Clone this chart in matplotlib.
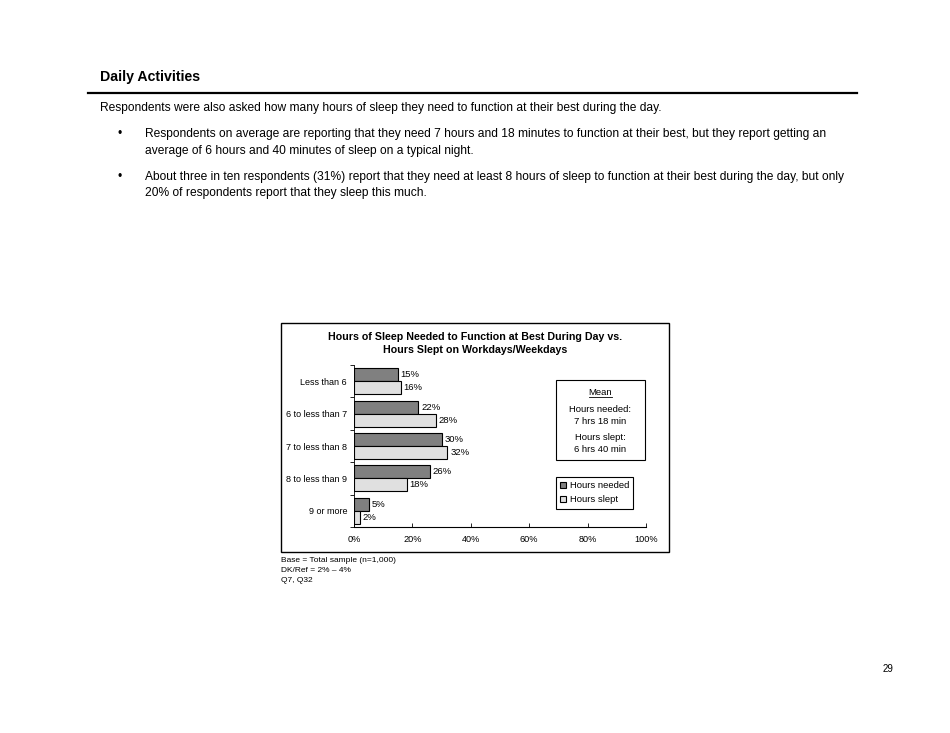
import matplotlib
matplotlib.use("Agg")
import matplotlib.pyplot as plt
from matplotlib.patches import Rectangle
from matplotlib.lines import Line2D
import numpy as np

plt.rcParams['font.family'] = ['Liberation Sans', 'DejaVu Sans']

categories = ["Less than 6", "6 to less than 7", "7 to less than 8", "8 to less than 9", "9 or more"]
hours_needed = [15, 22, 30, 26, 5]
hours_slept = [16, 28, 32, 18, 2]
series_names = ["Hours needed", "Hours slept"]
x_ticks = [0, 20, 40, 60, 80, 100]
x_tick_labels = ["0%", "20%", "40%", "60%", "80%", "100%"]

W, H = 950, 733
fig = plt.figure(figsize=(W / 100, H / 100), dpi=100)
fig.patch.set_facecolor("white")

def fx(px):
    return px / W

def fy(py):
    return 1 - py / H

# Page header
fig.text(fx(100), fy(77), "Daily Activities", fontsize=10.2, fontweight="bold", va="center", ha="left")
fig.add_artist(Line2D([fx(88), fx(857)], [fy(93), fy(93)], transform=fig.transFigure, color="black", lw=1.6))

body = 8.62
fig.text(fx(100), fy(108), "Respondents were also asked how many hours of sleep they need to function at their best during the day.",
         fontsize=body, va="center", ha="left")
fig.text(fx(118), fy(134), "•", fontsize=body, va="center", ha="left")
fig.text(fx(145), fy(134), "Respondents on average are reporting that they need 7 hours and 18 minutes to function at their best, but they report getting an",
         fontsize=body, va="center", ha="left")
fig.text(fx(145), fy(151), "average of 6 hours and 40 minutes of sleep on a typical night.", fontsize=body, va="center", ha="left")
fig.text(fx(118), fy(177), "•", fontsize=body, va="center", ha="left")
fig.text(fx(145), fy(177), "About three in ten respondents (31%) report that they need at least 8 hours of sleep to function at their best during the day, but only",
         fontsize=body, va="center", ha="left")
fig.text(fx(145), fy(193), "20% of respondents report that they sleep this much.", fontsize=body, va="center", ha="left")

# Chart frame
fig.add_artist(Rectangle((fx(281), fy(552)), fx(669) - fx(281), fy(323) - fy(552), transform=fig.transFigure,
                         fill=False, edgecolor="black", lw=1.0))

fig.text(fx(475), fy(337), "Hours of Sleep Needed to Function at Best During Day vs.", fontsize=7.7, fontweight="bold", ha="center", va="center")
fig.text(fx(475), fy(350), "Hours Slept on Workdays/Weekdays", fontsize=7.7, fontweight="bold", ha="center", va="center")

# Axes
ax = fig.add_axes([fx(354), fy(527), fx(646) - fx(354), fy(365) - fy(527)])
y = np.arange(len(categories))
bh = 0.4
dark = "#808080"
light = "#e0e0e0"
b1 = ax.barh(y - bh / 2, hours_needed, height=bh, color=dark, edgecolor="black", lw=0.8, label=series_names[0])
b2 = ax.barh(y + bh / 2, hours_slept, height=bh, color=light, edgecolor="black", lw=0.8, label=series_names[1])
for yy, v in zip(y - bh / 2, hours_needed):
    ax.text(v + 1.0, yy, f"{v}%", fontsize=6.8, va="center", ha="left")
for yy, v in zip(y + bh / 2, hours_slept):
    ax.text(v + 1.0, yy, f"{v}%", fontsize=6.8, va="center", ha="left")

ax.set_xlim(0, 100)
ax.set_ylim(len(categories) - 0.5, -0.5)
ax.set_xticks(x_ticks)
ax.set_xticklabels(x_tick_labels, fontsize=6.6)
ax.set_yticks(y)
ax.set_yticklabels(categories, fontsize=6.5)
ax.set_yticks(np.arange(-0.5, len(categories), 1.0), minor=True)
ax.tick_params(axis="y", which="major", length=0, pad=5)
ax.tick_params(axis="y", which="minor", length=3, direction="out", width=0.6)
ax.tick_params(axis="x", length=3, direction="in", width=0.6, pad=6)
for s in ["top", "right"]:
    ax.spines[s].set_visible(False)
ax.spines["left"].set_linewidth(0.6)
ax.spines["bottom"].set_linewidth(0.8)
ax.set_facecolor("none")

# Mean box
fig.add_artist(Rectangle((fx(556), fy(460)), fx(645) - fx(556), fy(380) - fy(460), transform=fig.transFigure,
                         fill=True, facecolor="white", edgecolor="black", lw=0.8))
fig.text(fx(600), fy(392), "Mean", fontsize=6.8, ha="center", va="center")
fig.add_artist(Line2D([fx(589), fx(612)], [fy(397), fy(397)], transform=fig.transFigure, color="black", lw=0.6))
fig.text(fx(600), fy(409), "Hours needed:", fontsize=6.8, ha="center", va="center")
fig.text(fx(600), fy(422), "7 hrs 18 min", fontsize=6.8, ha="center", va="center")
fig.text(fx(600), fy(438), "Hours slept:", fontsize=6.8, ha="center", va="center")
fig.text(fx(600), fy(450), "6 hrs 40 min", fontsize=6.8, ha="center", va="center")

# Legend
leg = ax.legend(handles=[b1, b2], loc="upper left", bbox_to_anchor=(fx(556), fy(477)), bbox_transform=fig.transFigure,
                borderaxespad=0, fancybox=False, edgecolor="black", framealpha=1, fontsize=6.8,
                handlelength=0.6, handleheight=0.6, handletextpad=0.4, labelspacing=0.55, borderpad=0.45)
leg.get_frame().set_linewidth(0.8)

# Footnotes
fig.text(fx(281), fy(560), "Base = Total sample (n=1,000)", fontsize=6, ha="left", va="center")
fig.text(fx(281), fy(571), "DK/Ref = 2% – 4%", fontsize=6, ha="left", va="center")
fig.text(fx(281), fy(581), "Q7, Q32", fontsize=6, ha="left", va="center")

fig.text(fx(888), fy(669), "29", fontsize=7, ha="center", va="center")

fig.savefig("out.png", dpi=100)
